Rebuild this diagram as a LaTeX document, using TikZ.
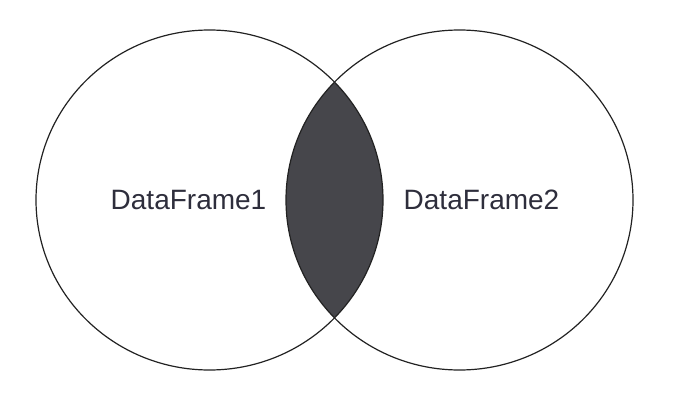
\documentclass[tikz,border=0pt]{standalone}
\usepackage{fontspec}
\setmainfont{Liberation Sans}
\definecolor{lensfill}{HTML}{46464B}
\definecolor{edge}{HTML}{222222}
\definecolor{txt}{HTML}{2E2E3C}
\begin{document}
\begin{tikzpicture}[x=1pt,y=-1pt,
  setline/.style={draw=edge,line width=1.2pt},
  setlabel/.style={text=txt,font=\fontsize{28}{32}\selectfont,inner sep=0pt}]
\useasboundingbox (0,0) rectangle (674,406);
\begin{scope}
  \clip (209.5,200) ellipse [x radius=173.5, y radius=170];
  \fill[lensfill] (459.5,200) ellipse [x radius=173.5, y radius=170];
\end{scope}
\draw[setline] (209.5,200) ellipse [x radius=173.5, y radius=170];
\draw[setline] (459.5,200) ellipse [x radius=173.5, y radius=170];
\node[setlabel] (df1) at (188.5,200) {DataFrame1};
\node[setlabel] (df2) at (481.5,200) {DataFrame2};
\end{tikzpicture}
\end{document}
